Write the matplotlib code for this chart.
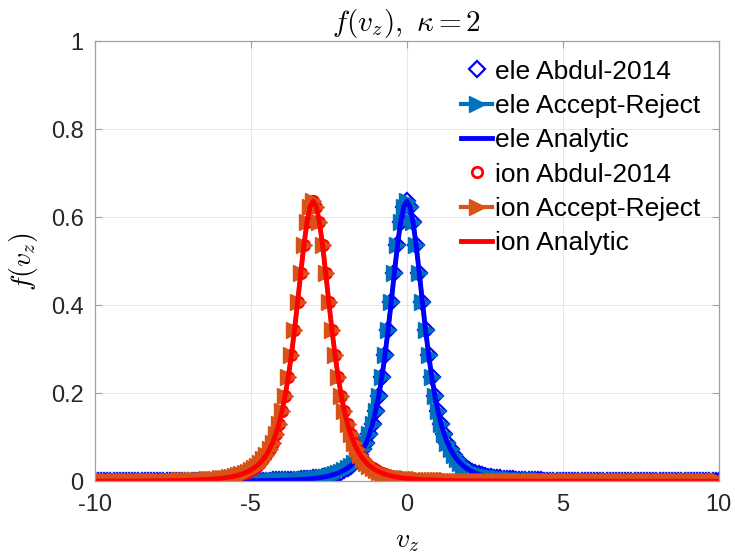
import numpy as np
import matplotlib
matplotlib.use('Agg')
import matplotlib.pyplot as plt

plt.rcParams['font.family'] = ['Liberation Sans', 'DejaVu Sans']
plt.rcParams['mathtext.fontset'] = 'cm'
plt.rcParams['axes.unicode_minus'] = False

# profile, v = 0.0, 0.1, ..., 13.0 (curve is symmetric about its peak)
f_half = [
    0.6366, 0.6241, 0.5886, 0.5358, 0.4731, 0.4074, 0.3442, 0.2868, 0.2367, 0.1943,
    0.1592, 0.1303, 0.1069, 0.0880, 0.0727, 0.0603, 0.0502, 0.0421, 0.0354, 0.0300,
    0.0255, 0.0218, 0.0187, 0.0161, 0.0139, 0.0121, 0.0106, 0.0093, 0.0081, 0.0072,
    0.0064, 0.0057, 0.0050, 0.0045, 0.0040, 0.0036, 0.0033, 0.0030, 0.0027, 0.0024,
    0.0022, 0.0020, 0.0018, 0.0017, 0.0015, 0.0014, 0.0013, 0.0012, 0.0011, 0.0010,
    0.0009, 0.0009, 0.0008, 0.0008, 0.0007, 0.0007, 0.0006, 0.0006, 0.0005, 0.0005,
    0.0005, 0.0004, 0.0004, 0.0004, 0.0004, 0.0003, 0.0003, 0.0003, 0.0003, 0.0003,
    0.0003, 0.0002, 0.0002, 0.0002, 0.0002, 0.0002, 0.0002, 0.0002, 0.0002, 0.0002,
    0.0002, 0.0002, 0.0001, 0.0001, 0.0001, 0.0001, 0.0001, 0.0001, 0.0001, 0.0001,
    0.0001, 0.0001, 0.0001, 0.0001, 0.0001, 0.0001, 0.0001, 0.0001, 0.0001, 0.0001,
    0.0001, 0.0001, 0.0001, 0.0001, 0.0001, 0.0001, 0.0001, 0.0001, 0.0001, 0.0001,
    0.0000, 0.0000, 0.0000, 0.0000, 0.0000, 0.0000, 0.0000, 0.0000, 0.0000, 0.0000,
    0.0000, 0.0000, 0.0000, 0.0000, 0.0000, 0.0000, 0.0000, 0.0000, 0.0000, 0.0000,
    0.0000,
]
ele_center = 0.0
ion_center = -3.0

vz = np.round(np.arange(-100, 101) * 0.1, 1)   # -10 ... 10 in steps of 0.1

f_full = np.array(f_half[::-1] + f_half[1:])   # v = -13.0 ... 13.0
def lookup(v):
    idx = np.rint((v + 13.0) * 10).astype(int)
    return f_full[idx]

ele_f = lookup(vz - ele_center)
ion_f = lookup(vz - ion_center)

c_ele_ar = '#0072BD'
c_ion_ar = '#D95319'

fig = plt.figure(figsize=(7.35, 5.57), dpi=100)
ax = fig.add_axes([0.129, 0.136, 0.849, 0.790])

ax.plot(vz, ele_f, 'D', color='blue', mfc='white', ms=8, mew=1.6, label='ele Abdul-2014')
ax.plot(vz, ele_f, '->', color=c_ele_ar, lw=3, ms=11, label='ele Accept-Reject')
ax.plot(vz, ele_f, '-', color='blue', lw=3.5, label='ele Analytic')
ax.plot(vz, ion_f, 'o', color='red', mfc='white', ms=7.5, mew=2, label='ion Abdul-2014')
ax.plot(vz, ion_f, '->', color=c_ion_ar, lw=3, ms=11, label='ion Accept-Reject')
ax.plot(vz, ion_f, '-', color='red', lw=3.5, label='ion Analytic')

ax.set_xlim(-10, 10)
ax.set_ylim(0, 1)
ax.set_xticks([-10, -5, 0, 5, 10])
ax.set_yticks([0, 0.2, 0.4, 0.6, 0.8, 1])
ax.set_yticklabels(['0', '0.2', '0.4', '0.6', '0.8', '1'])
ax.tick_params(direction='in', top=True, right=True, labelsize=17,
               labelcolor='#262626', color='#a0a0a0', length=5, width=0.8)
ax.tick_params(axis='x', pad=9)
ax.tick_params(axis='y', pad=8)
for s in ax.spines.values():
    s.set_color('#a0a0a0')
    s.set_linewidth(0.9)
ax.grid(True, color='#e6e6e6', lw=0.7)
ax.set_axisbelow(True)

ax.set_title(r'$f(v_z),\ \kappa=2$', fontsize=21, pad=7)
ax.set_xlabel(r'$v_z$', fontsize=20, labelpad=9)
ax.set_ylabel(r'$f(v_z)$', fontsize=20, labelpad=8)

ax.legend(loc='upper right', frameon=False, fontsize=19, handlelength=1.2,
          handletextpad=0.1, labelspacing=0.39, borderaxespad=0.3)

plt.savefig('out.png', dpi=100)
